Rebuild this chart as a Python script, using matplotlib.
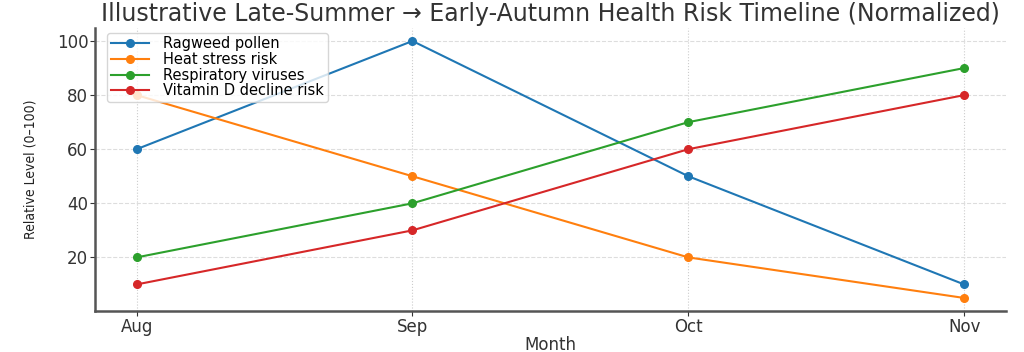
import matplotlib
matplotlib.use("Agg")
import matplotlib.pyplot as plt

months = ["Aug", "Sep", "Oct", "Nov"]
ragweed = [60, 100, 50, 10]
heat = [80, 50, 20, 5]
resp = [20, 40, 70, 90]
vitd = [10, 30, 60, 80]

series = [
    ("Ragweed pollen", ragweed, "#1f77b4"),
    ("Heat stress risk", heat, "#ff7f0e"),
    ("Respiratory viruses", resp, "#2ca02c"),
    ("Vitamin D decline risk", vitd, "#d62728"),
]

fig, ax = plt.subplots(figsize=(10.24, 3.52), dpi=100)
fig.subplots_adjust(left=0.093, right=0.982, top=0.92, bottom=0.117)

x = range(len(months))
for name, vals, col in series:
    ax.plot(x, vals, marker="o", markersize=5.5, linewidth=1.5, color=col, label=name)

ax.set_xticks(list(x))
ax.set_xticklabels(months)
ax.tick_params(labelsize=12, colors="#333333", pad=1.5)
ax.set_xlabel("Month", fontsize=12, color="#333333", labelpad=0)
ax.set_ylabel("Relative Level (0\u2013100)", fontsize=10, color="#222222",
              fontstretch="condensed", family="DejaVu Sans", labelpad=14)
ax.set_title("Illustrative Late-Summer \u2192 Early-Autumn Health Risk Timeline (Normalized)",
             fontsize=17, color="#333333", pad=5)

ax.grid(axis="y", linestyle="--", color="#dddddd", linewidth=0.8)
ax.grid(axis="x", linestyle=":", color="#cccccc", linewidth=0.8)
for s in ["top", "right"]:
    ax.spines[s].set_visible(False)
for s in ["left", "bottom"]:
    ax.spines[s].set_color("#555555")
    ax.spines[s].set_linewidth(1.8)

ax.legend(loc="upper left", fontsize=10.5, frameon=True, borderpad=0.25,
          labelspacing=0.05, handlelength=2.6, handletextpad=1.0,
          bbox_to_anchor=(0.005, 1.01))

fig.savefig("out.png", dpi=100)
